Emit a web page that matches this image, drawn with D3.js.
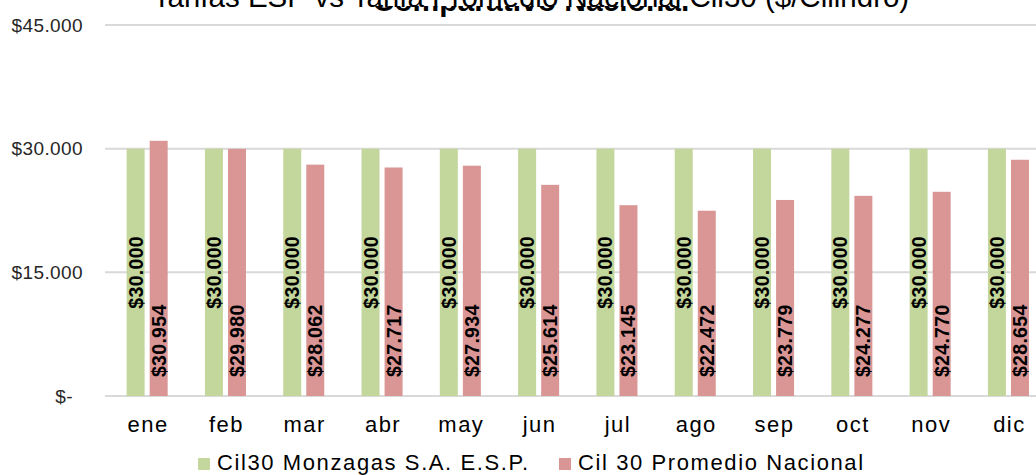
<!DOCTYPE html>
<html>
<head>
<meta charset="utf-8">
<script src="https://cdn.jsdelivr.net/npm/d3@7"></script>
<style>
  body { margin: 0; background: #fff; }
  svg { display: block; font-family: "Liberation Sans", Arial, sans-serif; }
</style>
</head>
<body>
<script>
// data
var months = ["ene", "feb", "mar", "abr", "may", "jun", "jul", "ago", "sep", "oct", "nov", "dic"];
var seriesNames = ["Cil30 Monzagas S.A. E.S.P.", "Cil 30 Promedio Nacional"];
var monzagas = [30000, 30000, 30000, 30000, 30000, 30000, 30000, 30000, 30000, 30000, 30000, 30000];
var promedio = [30954, 29980, 28062, 27717, 27934, 25614, 23145, 22472, 23779, 24277, 24770, 28654];
var yTicks = [0, 15000, 30000, 45000];
var titleLine1 = "Tarifas ESP vs Tarifa Promedio Nacional Cil30 ($/Cilindro)";
var titleLine2 = "Comparativo Nacional";

var colors = ["#c3d69b", "#d99694"];

var width = 1036, height = 475;

var svg = d3.select("body")
    .append("svg")
    .attr("width", width)
    .attr("height", height);

var rows = months.map(function(m, i) {
    return { month: m, values: [monzagas[i], promedio[i]] };
});

var x0 = d3.scaleBand()
    .domain(months)
    .range([108, 1047.6])
    .paddingInner(0.476)
    .paddingOuter(0.238);

var x1 = d3.scaleBand()
    .domain([0, 1])
    .range([0, x0.bandwidth()])
    .paddingInner(0.22);

var y = d3.scaleLinear()
    .domain([0, 45000])
    .range([396, 25]);

// thousands with a dot, like the original
var fmt = function(v) {
    return "$" + d3.format(",")(v).replace(/,/g, ".");
};

// gridlines
svg.append("g")
    .selectAll("line")
    .data(yTicks)
    .enter().append("line")
    .attr("x1", 105)
    .attr("x2", width)
    .attr("y1", function(d) { return y(d); })
    .attr("y2", function(d) { return y(d); })
    .attr("stroke", "#d9d9d9")
    .attr("stroke-width", 2);

// y axis labels
var yAxis = svg.append("g")
    .attr("transform", "translate(83,0)")
    .call(d3.axisLeft(y)
        .tickValues(yTicks)
        .tickSize(0)
        .tickPadding(0)
        .tickFormat(function(d) { return d === 0 ? "$-" : fmt(d); }));
yAxis.select(".domain").remove();
yAxis.selectAll("text")
    .attr("font-family", "Liberation Sans, Arial, sans-serif")
    .attr("font-size", 19)
    .attr("letter-spacing", 0.4)
    .attr("fill", "#262626")
    .attr("dx", function(d) { return d === 0 ? -10 : 0; });

// bars
var groups = svg.append("g")
    .selectAll("g")
    .data(rows)
    .enter().append("g")
    .attr("transform", function(d) { return "translate(" + x0(d.month) + ",0)"; });

groups.selectAll("rect")
    .data(function(d) { return d.values; })
    .enter().append("rect")
    .attr("x", function(d, i) { return x1(i); })
    .attr("y", function(d) { return y(d); })
    .attr("width", x1.bandwidth())
    .attr("height", function(d) { return y(0) - y(d); })
    .attr("fill", function(d, i) { return colors[i]; });

// value labels, rotated
groups.selectAll("text")
    .data(function(d) { return d.values; })
    .enter().append("text")
    .attr("transform", function(d, i) {
        var cx = x1(i) + x1.bandwidth() / 2;
        var cy = i === 0 ? y(d / 2) : y(2300);
        return "translate(" + cx + "," + cy + ") rotate(-90)";
    })
    .attr("text-anchor", function(d, i) { return i === 0 ? "middle" : "start"; })
    .attr("dominant-baseline", "central")
    .attr("font-size", 19.5)
    .attr("font-weight", "bold")
    .attr("letter-spacing", 0.3)
    .attr("fill", "#000")
    .text(function(d) { return fmt(d); });

// month labels
svg.append("g")
    .selectAll("text")
    .data(months)
    .enter().append("text")
    .attr("x", function(d) { return x0(d) + x0.bandwidth() / 2 + 1; })
    .attr("y", 432)
    .attr("text-anchor", "middle")
    .attr("font-size", 22)
    .attr("letter-spacing", 1.5)
    .attr("fill", "#000")
    .text(function(d) { return d; });

// legend
var legendX = [198, 559];
var legend = svg.append("g")
    .selectAll("g")
    .data(seriesNames)
    .enter().append("g")
    .attr("transform", function(d, i) { return "translate(" + legendX[i] + ",0)"; });
legend.append("rect")
    .attr("y", 458)
    .attr("width", 12)
    .attr("height", 12)
    .attr("fill", function(d, i) { return colors[i]; });
legend.append("text")
    .attr("x", 19)
    .attr("y", 470)
    .attr("font-size", 22)
    .attr("letter-spacing", 1.6)
    .attr("fill", "#000")
    .text(function(d) { return d; });

// title: second line is mostly hidden under the first one
svg.append("clipPath")
    .attr("id", "subclip")
    .append("rect")
    .attr("x", 0).attr("y", 6)
    .attr("width", width).attr("height", 20);

svg.append("text")
    .attr("clip-path", "url(#subclip)")
    .attr("x", 531)
    .attr("y", 11)
    .attr("text-anchor", "middle")
    .attr("font-size", 30)
    .attr("font-weight", "bold")
    .attr("fill", "#000")
    .text(titleLine2);

svg.append("text")
    .attr("x", 531)
    .attr("y", 7)
    .attr("text-anchor", "middle")
    .attr("font-size", 29.5)
    .attr("fill", "#000")
    .text(titleLine1);
</script>
</body>
</html>
